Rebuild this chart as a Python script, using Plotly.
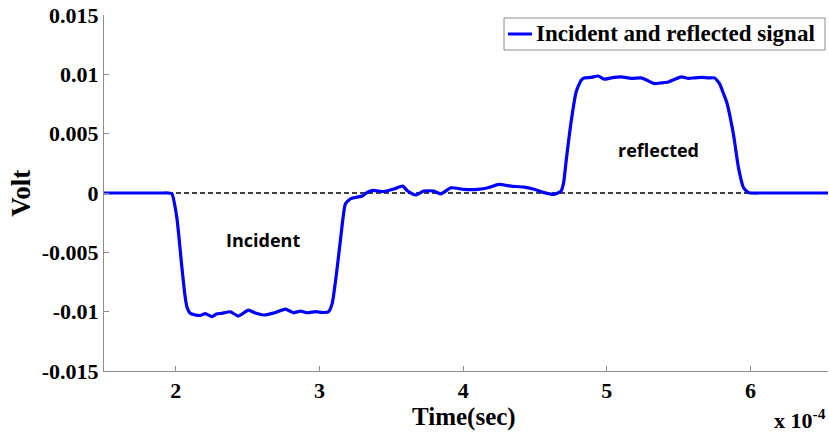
import numpy as np
import plotly.graph_objects as go

# time in units of 1e-4 s, voltage in V
time_e4 = [1.50, 1.70, 1.90, 1.947, 1.972, 2.007, 2.042, 2.065, 2.077, 2.100, 2.135, 2.170, 2.205,
           2.252, 2.282, 2.321, 2.379, 2.435, 2.505, 2.554, 2.610, 2.679, 2.763, 2.819, 2.868,
           2.915, 2.972, 3.021, 3.063, 3.089, 3.124, 3.159, 3.180, 3.215, 3.260, 3.298, 3.330,
           3.371, 3.447, 3.516, 3.579, 3.614, 3.670, 3.726, 3.796, 3.845, 3.915, 4.005, 4.103,
           4.173, 4.249, 4.333, 4.424, 4.494, 4.563, 4.633, 4.682, 4.700, 4.717, 4.752, 4.787,
           4.822, 4.843, 4.892, 4.940, 4.982, 5.031, 5.101, 5.170, 5.240, 5.289, 5.331, 5.380,
           5.429, 5.471, 5.519, 5.568, 5.610, 5.659, 5.708, 5.750, 5.785, 5.813, 5.834, 5.882,
           5.917, 5.952, 5.987, 6.078, 6.300, 6.550]
volt = [0.0, 0.0, 0.0, 0.0, -0.00006, -0.00206, -0.00624, -0.00875, -0.00959, -0.01014, -0.01028,
        -0.01032, -0.01016, -0.01042, -0.01020, -0.01014, -0.01001, -0.01037, -0.00987, -0.01012,
        -0.01028, -0.01012, -0.00978, -0.01009, -0.00995, -0.01009, -0.00999, -0.01007, -0.01001,
        -0.00928, -0.00624, -0.00259, -0.00092, -0.00050, -0.00035, -0.00025, 0.00003, 0.00022,
        0.00011, 0.00033, 0.00058, 0.00017, -0.00017, 0.00017, 0.00017, -0.00008, 0.00044,
        0.00031, 0.00031, 0.00044, 0.00072, 0.00058, 0.00050, 0.00031, 0.00003, -0.00011,
        0.00017, 0.00090, 0.00268, 0.00602, 0.00853, 0.00951, 0.00970, 0.00974, 0.00986,
        0.00959, 0.00970, 0.00978, 0.00966, 0.00970, 0.00945, 0.00922, 0.00928, 0.00936,
        0.00957, 0.00978, 0.00966, 0.00970, 0.00974, 0.00970, 0.00970, 0.00922, 0.00836,
        0.00769, 0.00493, 0.00212, 0.00044, 0.00003, 0.0, 0.0, 0.0]

x_ticks = [2, 3, 4, 5, 6]
y_ticks = [-0.015, -0.01, -0.005, 0, 0.005, 0.01, 0.015]
y_tick_text = ["-0.015", "-0.01", "-0.005", "0", "0.005", "0.01", "0.015"]
series_name = "Incident and reflected signal"

t = np.array(time_e4) * 1e-4
serif = "Liberation Serif"
grey = "#8c8c8c"
blue = "#0000ff"

fig = go.Figure()
fig.add_trace(go.Scatter(x=[1.5e-4, 6.55e-4], y=[0, 0], mode="lines",
                         line=dict(color="black", width=1.3, dash="5px,3px"),
                         showlegend=False, hoverinfo="skip"))
fig.add_trace(go.Scatter(x=t, y=volt, mode="lines", name=series_name, showlegend=False,
                         line=dict(color=blue, width=3.2, shape="spline", smoothing=0.5)))

# plot area in pixels: left 104, right 828, top 15, bottom 371
def px(xp):
    return (xp - 104) / 724.0

def py(yp):
    return (371 - yp) / 356.0

shapes = [
    dict(type="rect", xref="paper", yref="paper", x0=px(504), x1=px(825), y0=py(50), y1=py(18),
         line=dict(color=grey, width=1), fillcolor="white", layer="above"),
    dict(type="line", xref="paper", yref="paper", x0=px(508), x1=px(532), y0=py(34), y1=py(34),
         line=dict(color=blue, width=3), layer="above"),
]

fig.update_layout(
    width=829, height=432,
    margin=dict(l=104, r=1, t=15, b=61),
    paper_bgcolor="white", plot_bgcolor="white",
    font=dict(family=serif, size=22, color="black"),
    showlegend=False,
    shapes=shapes,
    annotations=[
        dict(text=series_name, xref="paper", yref="paper", x=px(534), y=py(34),
             xanchor="left", yanchor="middle", showarrow=False,
             font=dict(family=serif, size=23, weight="bold")),
        dict(text="Volt", xref="paper", yref="paper", x=-0.115, y=0.5,
             xanchor="center", yanchor="middle", textangle=-90, showarrow=False,
             font=dict(family=serif, size=27, weight="bold")),
        dict(text="Time(sec)", xref="paper", yref="paper", x=0.497, y=-0.128,
             xanchor="center", yanchor="middle", showarrow=False,
             font=dict(family=serif, size=25, weight="bold")),
        dict(text="x 10<sup>-4</sup>", xref="paper", yref="paper", x=1.0, y=-0.09,
             xanchor="right", yanchor="top", showarrow=False,
             font=dict(family=serif, size=22, weight="bold")),
        dict(text="Incident", x=2.61e-4, y=-0.0040, showarrow=False,
             font=dict(family="Open Sans", size=18, weight="bold")),
        dict(text="reflected", x=5.36e-4, y=0.0036, showarrow=False,
             font=dict(family="Open Sans", size=18, weight="bold")),
    ],
)
fig.update_xaxes(range=[1.5e-4, 6.54e-4], tickvals=[v * 1e-4 for v in x_ticks],
                 ticktext=[str(v) for v in x_ticks],
                 showline=True, linecolor=grey, linewidth=1, ticks="inside", ticklen=5,
                 tickcolor=grey, showgrid=False, zeroline=False,
                 tickfont=dict(family=serif, size=22, weight="bold"))
fig.update_yaxes(range=[-0.015, 0.015], tickvals=y_ticks, ticktext=y_tick_text,
                 showline=True, linecolor=grey, linewidth=1, ticks="inside", ticklen=5,
                 tickcolor=grey, showgrid=False, zeroline=False,
                 tickfont=dict(family=serif, size=22, weight="bold"))

fig.write_html("out.html")
